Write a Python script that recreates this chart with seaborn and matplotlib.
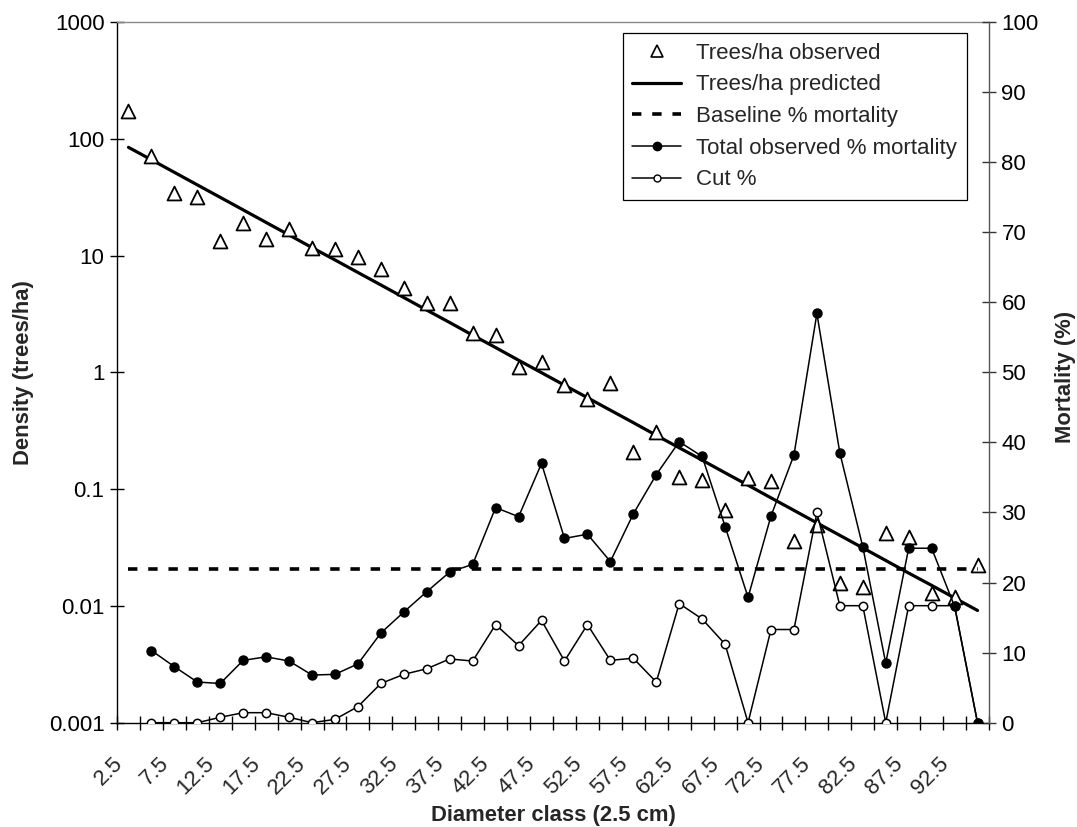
import numpy as np
import pandas as pd
import matplotlib
matplotlib.use("Agg")
import matplotlib.pyplot as plt
import matplotlib.transforms as mtransforms
import seaborn as sns
from matplotlib.lines import Line2D
from matplotlib.ticker import FixedLocator, NullLocator, FuncFormatter

# ---------------- data ----------------
diameter_class = [2.5, 5, 7.5, 10, 12.5, 15, 17.5, 20, 22.5, 25, 27.5, 30, 32.5, 35,
                  37.5, 40, 42.5, 45, 47.5, 50, 52.5, 55, 57.5, 60, 62.5, 65, 67.5,
                  70, 72.5, 75, 77.5, 80, 82.5, 85, 87.5, 90, 92.5, 95]

trees_observed = [173, 71, 34, 32, 13.2, 19.1, 13.8, 17, 11.5, 11.3, 9.8, 7.6, 5.25,
                  3.95, 3.95, 2.16, 2.09, 1.11, 1.22, 0.78, 0.59, 0.81, 0.21, 0.31,
                  0.128, 0.12, 0.066, 0.124, 0.118, 0.036, 0.049, 0.0156, 0.0146,
                  0.042, 0.039, 0.0128, 0.012, 0.0224]

trees_predicted = [84.5, 66.1, 51.6, 40.3, 31.5, 24.6, 19.2, 15.0, 11.7, 9.17, 7.16,
                   5.60, 4.37, 3.41, 2.67, 2.08, 1.63, 1.27, 0.993, 0.776, 0.607,
                   0.474, 0.371, 0.289, 0.226, 0.177, 0.138, 0.108, 0.0842, 0.0658,
                   0.0514, 0.0402, 0.0314, 0.0245, 0.0191, 0.0150, 0.0117, 0.00914]

baseline_mortality = 21.9

total_mortality = [np.nan, 10.3, 8.0, 5.8, 5.6, 8.9, 9.4, 8.8, 6.8, 6.9, 8.4, 12.8,
                   15.8, 18.7, 21.5, 22.6, 30.7, 29.4, 37.0, 26.3, 26.9, 23.0, 29.8,
                   35.4, 40.1, 38.0, 28.0, 17.9, 29.5, 38.2, 58.4, 38.5, 25.1, 8.5,
                   24.9, 24.9, 16.6, 0]

cut_pct = [np.nan, 0, 0, 0, 0.77, 1.43, 1.43, 0.77, 0, 0.48, 2.3, 5.6, 6.9, 7.7,
           9.1, 8.8, 14.0, 11.0, 14.6, 8.8, 14.0, 8.9, 9.2, 5.8, 17.0, 14.8, 11.2,
           0, 13.3, 13.3, 30.0, 16.7, 16.7, 0, 16.7, 16.7, 16.7, 0]

df = pd.DataFrame({
    "pos": np.arange(len(diameter_class)),
    "diameter": diameter_class,
    "observed": trees_observed,
    "predicted": trees_predicted,
    "baseline": baseline_mortality,
    "total": total_mortality,
    "cut": cut_pct,
})
dm = df.dropna(subset=["total"])

# ---------------- style ----------------
sns.set_theme(style="white")
plt.rcParams["font.family"] = ["Liberation Sans", "DejaVu Sans"]
FS = 16
FSL = 15.8

fig = plt.figure(figsize=(10.77, 8.27), dpi=100)
ax = fig.add_axes([117 / 1077, 1 - 722.7 / 827, 872 / 1077, 700.7 / 827])
ax.set_yscale("log")
ax.set_ylim(0.001, 1000)
ax.set_xlim(-0.5, len(diameter_class) - 0.5)

# density series (left axis)
sns.lineplot(data=df, x="pos", y="predicted", ax=ax, color="black",
             linewidth=2.3, errorbar=None, zorder=3)
sns.scatterplot(data=df, x="pos", y="observed", ax=ax, marker="^", s=100,
                color="white", edgecolor="black", linewidth=1.3, zorder=4)

# mortality series (right axis)
ax2 = ax.twinx()
ax2.set_ylim(0, 100)
sns.lineplot(data=df, x="pos", y="baseline", ax=ax2, color="black",
             linewidth=2.6, dashes=False, errorbar=None)
ax2.lines[-1].set_dashes((2.6, 3.0))
sns.lineplot(data=dm, x="pos", y="cut", ax=ax2, color="black", linewidth=1.1,
             marker="o", markersize=6, markerfacecolor="white",
             markeredgecolor="black", markeredgewidth=1.1, errorbar=None)
sns.lineplot(data=dm, x="pos", y="total", ax=ax2, color="black", linewidth=1.1,
             marker="o", markersize=6.5, markerfacecolor="black",
             markeredgecolor="black", markeredgewidth=1.0, errorbar=None)

# ---------------- axes formatting ----------------
for a in (ax, ax2):
    a.set_xlabel("")
    a.set_ylabel("")

ax.yaxis.set_major_locator(FixedLocator([0.001, 0.01, 0.1, 1, 10, 100, 1000]))
ax.yaxis.set_minor_locator(NullLocator())
ax.yaxis.set_major_formatter(FuncFormatter(lambda v, p: f"{v:g}"))
ax.tick_params(axis="y", which="major", direction="inout", length=10, width=1,
               color="black", labelsize=FS, pad=4, labelcolor="black")

ax2.set_yticks(np.arange(0, 101, 10))
ax2.tick_params(axis="y", which="major", direction="inout", length=10, width=1,
                color="#333333", labelsize=FS, pad=4, labelcolor="black")

ax.set_xticks(df["pos"][::2])
ax.set_xticklabels([f"{d:g}" for d in df["diameter"][::2]])
ax.set_xticks(np.arange(-0.5, len(diameter_class)), minor=True)
ax.tick_params(axis="x", which="major", length=0, labelsize=FS, pad=27)
ax.tick_params(axis="x", which="minor", direction="inout", length=10, width=1,
               color="black", bottom=True)
offset = mtransforms.ScaledTranslation(-9 / 100, 0, fig.dpi_scale_trans)
for lab in ax.get_xticklabels():
    lab.set_rotation(45)
    lab.set_ha("right")
    lab.set_va("center")
    lab.set_rotation_mode("anchor")
    lab.set_transform(lab.get_transform() + offset)

ax.spines["left"].set_color("black")
ax.spines["bottom"].set_color("black")
ax.spines["top"].set_color("#8a8a8a")
ax.spines["right"].set_visible(False)
for s in ("left", "bottom", "top"):
    ax2.spines[s].set_visible(False)
ax2.spines["right"].set_color("#555555")
for sp in list(ax.spines.values()) + list(ax2.spines.values()):
    sp.set_linewidth(1.0)

ax.set_ylabel("Density (trees/ha)", fontsize=FSL, fontweight="bold")
ax.yaxis.set_label_coords((34 - 117) / 872, 0.5)
ax2.set_ylabel("Mortality (%)", fontsize=FSL, fontweight="bold", rotation=90)
ax2.yaxis.set_label_coords((1055 - 117) / 872, 0.493)
ax2.yaxis.label.set_va("top")
ax.set_xlabel("Diameter class (2.5 cm)", fontsize=FSL, fontweight="bold")
ax.xaxis.set_label_coords(0.5, -(805 - 722.7) / 700.7)

# ---------------- legend ----------------
handles = [
    Line2D([], [], linestyle="none", marker="^", markersize=8,
           markerfacecolor="white", markeredgecolor="black", markeredgewidth=1.2),
    Line2D([], [], color="black", linewidth=2.3),
    Line2D([], [], color="black", linewidth=2.6, dashes=(2.6, 3.0)),
    Line2D([], [], color="black", linewidth=1.1, marker="o", markersize=6,
           markerfacecolor="black", markeredgecolor="black"),
    Line2D([], [], color="black", linewidth=1.1, marker="o", markersize=5,
           markerfacecolor="white", markeredgecolor="black"),
]
labels = ["Trees/ha observed", "Trees/ha predicted", "Baseline % mortality",
          "Total observed % mortality", "Cut %"]
leg = ax2.legend(handles, labels, loc="upper right",
                 bbox_to_anchor=(966.7 / 1077, 1 - 33.3 / 827),
                 bbox_transform=fig.transFigure, fontsize=FS, frameon=True,
                 fancybox=False, shadow=False, framealpha=1, edgecolor="black",
                 handlelength=2.2, handletextpad=0.68, labelspacing=0.48,
                 borderpad=0.42, borderaxespad=0)
leg.get_frame().set_linewidth(0.9)

fig.savefig("out.png", dpi=100)
